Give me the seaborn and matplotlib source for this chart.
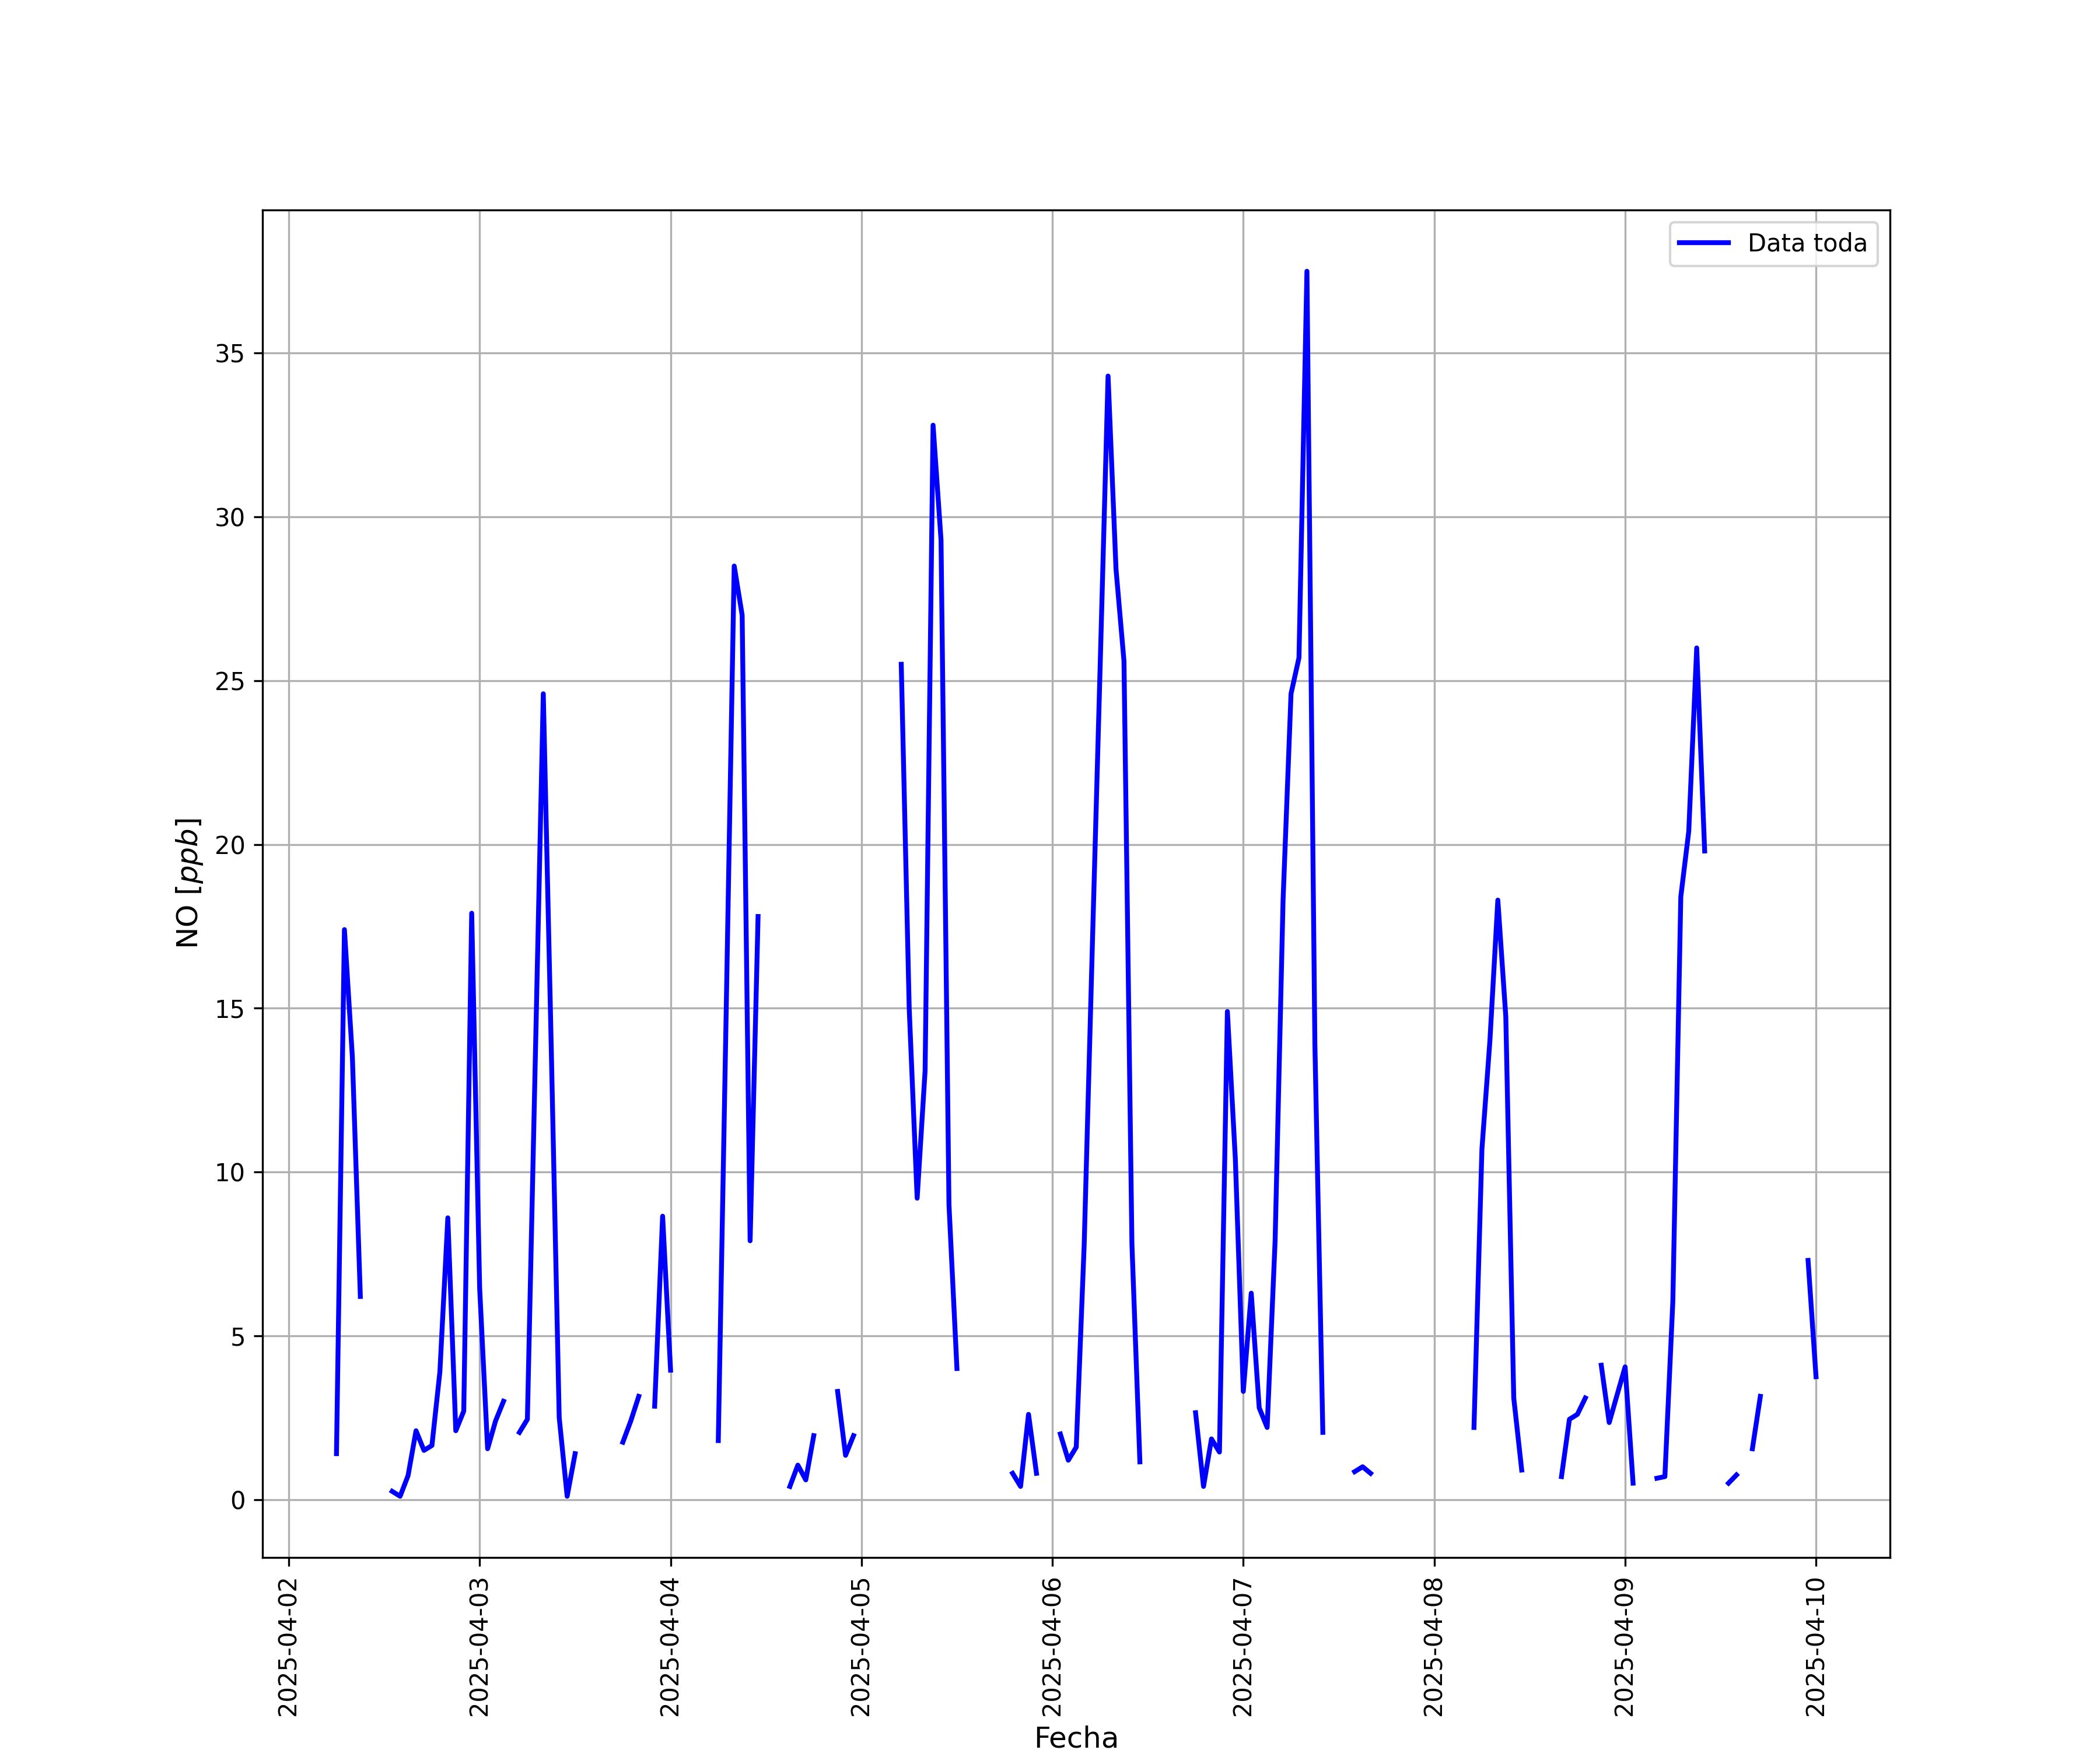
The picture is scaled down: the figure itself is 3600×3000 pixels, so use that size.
import matplotlib
matplotlib.use('Agg')
import matplotlib.pyplot as plt
import matplotlib.dates as mdates
import numpy as np
import pandas as pd
import seaborn as sns

# Serie horaria de NO desde 2025-04-02 06:00 (NaN = sin dato)
inicio = '2025-04-02 06:00'
nan = np.nan
no_ppb = [
    1.4, 17.4, 13.5, 6.2, nan, nan, nan,                       # 06-12
    0.25, 0.1, 0.73, 2.1, 1.5, 1.65, 3.9, 8.6, 2.1, 2.7, 17.9,  # 13-23
    6.45, 1.55, 2.4, 3.0, nan,                                  # 24-28
    2.05, 2.45, 13.5, 24.6, 13.8, 2.5, 0.1, 1.4,                # 29-36
    nan, nan, nan, nan, nan,                                    # 37-41
    1.75, 2.4, 3.15, nan, 2.85, 8.65, 3.95,                     # 42-48
    nan, nan, nan, nan, nan,                                    # 49-53
    1.8, 15.0, 28.5, 27.0, 7.9, 17.8, nan, nan, nan,            # 54-62
    0.4, 1.05, 0.6, 1.95, nan, nan, 3.3, 1.35, 1.95,            # 63-71
    nan, nan, nan, nan, nan,                                    # 72-76
    25.5, 15.0, 9.2, 13.1, 32.8, 29.3, 9.0, 4.0,                # 77-84
    nan, nan, nan, nan, nan, nan,                               # 85-90
    0.8, 0.4, 2.6, 0.8, nan, nan,                               # 91-96
    2.0, 1.2, 1.6, 7.8, 16.7, 25.4, 34.3, 28.4, 25.6, 7.8, 1.15,  # 97-107
    nan, nan, nan, nan, nan, nan,                               # 108-113
    2.65, 0.4, 1.85, 1.45, 14.9, 10.4, 3.3, 6.3, 2.8, 2.2,      # 114-123
    7.9, 18.3, 24.6, 25.7, 37.5, 13.9, 2.05, nan, nan, nan,     # 124-133
    0.85, 1.0, 0.8,                                             # 134-136
    nan, nan, nan, nan, nan, nan, nan, nan, nan, nan, nan, nan,  # 137-148
    2.2, 10.7, 14.0, 18.3, 14.75, 3.1, 0.9, nan, nan, nan, nan,  # 149-159
    0.7, 2.45, 2.6, 3.1, nan, 4.1, 2.35, 3.2, 4.05, 0.5,       # 160-169
    nan, nan, 0.65, 0.7, 6.05, 18.4, 20.4, 26.0, 19.8,          # 170-178
    nan, nan, 0.5, 0.75, nan, 1.55, 3.15,                       # 179-185
    nan, nan, nan, nan, nan, 7.3, 3.75,                         # 186-192
]

fechas = pd.date_range(inicio, periods=len(no_ppb), freq='h')
df = pd.DataFrame({'fecha': fechas, 'no': no_ppb})
# cada tramo continuo se dibuja por separado para dejar los huecos
df['tramo'] = df['no'].isna().cumsum()
df = df.dropna()

fig, ax = plt.subplots(figsize=(12, 10))
sns.lineplot(data=df, x='fecha', y='no', units='tramo', estimator=None,
             color='blue', linewidth=2, ax=ax, label='Data toda')

handles, labels = ax.get_legend_handles_labels()
ax.legend(handles[:1], labels[:1], loc='upper right')

ax.xaxis.set_major_locator(mdates.DayLocator())
ax.xaxis.set_major_formatter(mdates.DateFormatter('%Y-%m-%d'))
plt.xticks(rotation=90)
ax.set_xlabel('Fecha', fontsize=12)
ax.set_ylabel('NO [$ppb$]', fontsize=12)
ax.grid(True)

plt.savefig('out.png', dpi=300)
plt.close()
